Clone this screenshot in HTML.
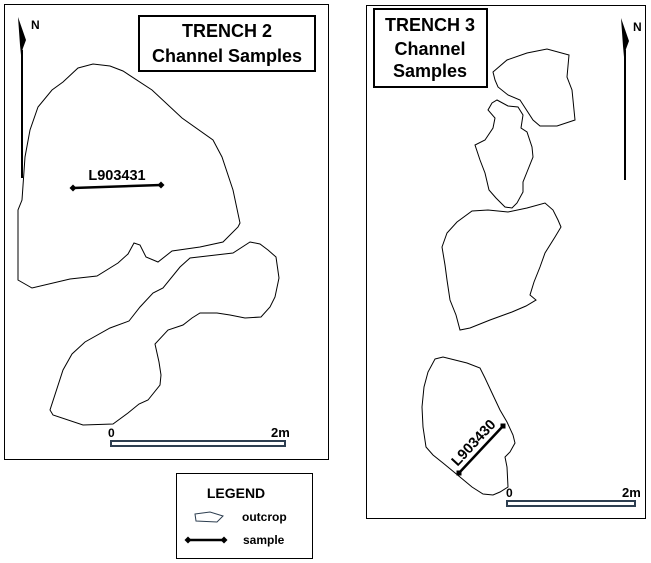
<!DOCTYPE html>
<html><head><meta charset="utf-8"><style>
html,body{margin:0;padding:0;background:#fff;}
svg{display:block;font-family:"Liberation Sans",Arial,sans-serif;}
</style></head><body>
<svg width="651" height="563" viewBox="0 0 651 563" xmlns="http://www.w3.org/2000/svg">
<rect width="651" height="563" fill="#fff"/>
<!-- Left frame -->
<rect x="4.5" y="4.5" width="324" height="455" fill="none" stroke="#000" stroke-width="1"/>
<rect x="139" y="16" width="176" height="55" fill="#fff" stroke="#000" stroke-width="2"/>
<text x="227" y="37" font-size="18" font-weight="bold" text-anchor="middle">TRENCH 2</text>
<text x="227" y="62" font-size="18" font-weight="bold" text-anchor="middle">Channel Samples</text>
<!-- north arrow left -->
<line x1="22" y1="50" x2="22" y2="178" stroke="#000" stroke-width="2"/>
<polygon points="18,17 26,40 23,48 21,55 20,45" fill="#000"/>
<text x="31" y="29" font-size="12" font-weight="bold">N</text>
<!-- polygon 1 -->
<polygon fill="none" stroke="#000" stroke-width="1" points="78,68 93,64 110,66 123,71 152,90 182,118 213,140 222,157 233,190 240,223 238,227 223,242 200,247 172,251 158,262 146,257 140,245 134,243 128,254 118,263 97,276 70,279 32,288 18,280 18,210 22,200 25,157 30,130 38,107 52,90 63,82"/>
<!-- polygon 2 -->
<polygon fill="none" stroke="#000" stroke-width="1" points="250,242 260,244 268,250 276,257 279,278 275,297 270,307 261,317 245,318 230,315 217,313 200,313 192,318 183,325 168,330 155,344 159,362 161,375 160,385 148,400 139,404 128,413 113,424 83,425 53,415 50,410 63,370 72,354 85,342 110,328 129,321 140,307 153,293 163,288 180,267 190,258 233,253"/>
<!-- sample 1 -->
<line x1="73" y1="188" x2="161" y2="185" stroke="#000" stroke-width="2.5"/>
<polygon points="73,184.5 76.5,188 73,191.5 69.5,188" fill="#000"/>
<polygon points="161,181.5 164.5,185 161,188.5 157.5,185" fill="#000"/>
<text x="117" y="180" font-size="14.5" font-weight="bold" text-anchor="middle">L903431</text>
<!-- scale left -->
<rect x="111" y="441" width="174" height="5" fill="#fff" stroke="#2d3e50" stroke-width="2"/>
<text x="108" y="437" font-size="12" font-weight="bold">0</text>
<text x="271" y="437" font-size="13" font-weight="bold">2m</text>

<!-- Right frame -->
<rect x="366.5" y="5.5" width="279" height="513" fill="none" stroke="#000" stroke-width="1"/>
<rect x="374" y="9" width="113" height="78" fill="#fff" stroke="#000" stroke-width="2"/>
<text x="430" y="31" font-size="18" font-weight="bold" text-anchor="middle">TRENCH 3</text>
<text x="430" y="55" font-size="18" font-weight="bold" text-anchor="middle">Channel</text>
<text x="430" y="77" font-size="18" font-weight="bold" text-anchor="middle">Samples</text>
<line x1="625" y1="50" x2="625" y2="180" stroke="#000" stroke-width="2"/>
<polygon points="621,18 629,41 626,49 624,57 623,46" fill="#000"/>
<text x="633" y="31" font-size="12" font-weight="bold">N</text>
<!-- A -->
<polygon fill="none" stroke="#000" stroke-width="1" points="493,72 507,60 527,53 547,49 569,55 567,77 572,90 575,120 557,126 540,126 533,120 520,100 508,95 498,87 495,80"/>
<!-- B -->
<polygon fill="none" stroke="#000" stroke-width="1" points="497,100 508,106 518,107 523,115 521,128 527,132 532,147 533,157 527,172 523,182 523,192 517,203 512,208 505,207 496,198 489,190 485,173 480,160 475,145 485,140 493,128 495,118 488,110 492,103"/>
<!-- C -->
<polygon fill="none" stroke="#000" stroke-width="1" points="472,211 488,210 508,212 527,208 545,203 553,210 558,220 561,227 555,237 545,253 540,267 534,282 530,295 536,300 526,306 512,312 490,320 470,328 460,330 456,315 450,300 447,280 445,265 442,247 447,233 457,222"/>
<!-- D -->
<polygon fill="none" stroke="#000" stroke-width="1" points="435,359 443,357 467,363 480,368 485,378 492,393 500,410 507,422 513,435 515,443 510,452 505,457 507,467 508,487 500,492 493,495 483,494 472,487 460,477 443,463 433,455 426,447 423,427 422,407 424,387 428,372"/>
<!-- sample 2 -->
<line x1="459" y1="473" x2="503" y2="426" stroke="#000" stroke-width="2.5"/>
<rect x="456.5" y="470.5" width="5" height="5" fill="#000"/>
<rect x="500.5" y="423.5" width="5" height="5" fill="#000"/>
<text x="0" y="0" font-size="14.5" font-weight="bold" text-anchor="middle" transform="translate(477,446) rotate(-47)">L903430</text>
<!-- scale right -->
<rect x="507" y="501" width="128" height="5" fill="#fff" stroke="#2d3e50" stroke-width="2"/>
<text x="506" y="497" font-size="12" font-weight="bold">0</text>
<text x="622" y="497" font-size="13" font-weight="bold">2m</text>

<!-- Legend -->
<rect x="176.5" y="473.5" width="136" height="85" fill="#fff" stroke="#000" stroke-width="1"/>
<text x="236" y="498" font-size="14" font-weight="bold" text-anchor="middle">LEGEND</text>
<polygon points="195,514 210,512 223,516 217,522 196,521" fill="#fff" stroke="#2d3e50" stroke-width="1"/>
<text x="242" y="521" font-size="12" font-weight="bold">outcrop</text>
<line x1="188" y1="540" x2="224" y2="540" stroke="#000" stroke-width="2.5"/>
<polygon points="188,536.5 191.5,540 188,543.5 184.5,540" fill="#000"/>
<polygon points="224,536.5 227.5,540 224,543.5 220.5,540" fill="#000"/>
<text x="243" y="544" font-size="12" font-weight="bold">sample</text>
</svg>
</body></html>
